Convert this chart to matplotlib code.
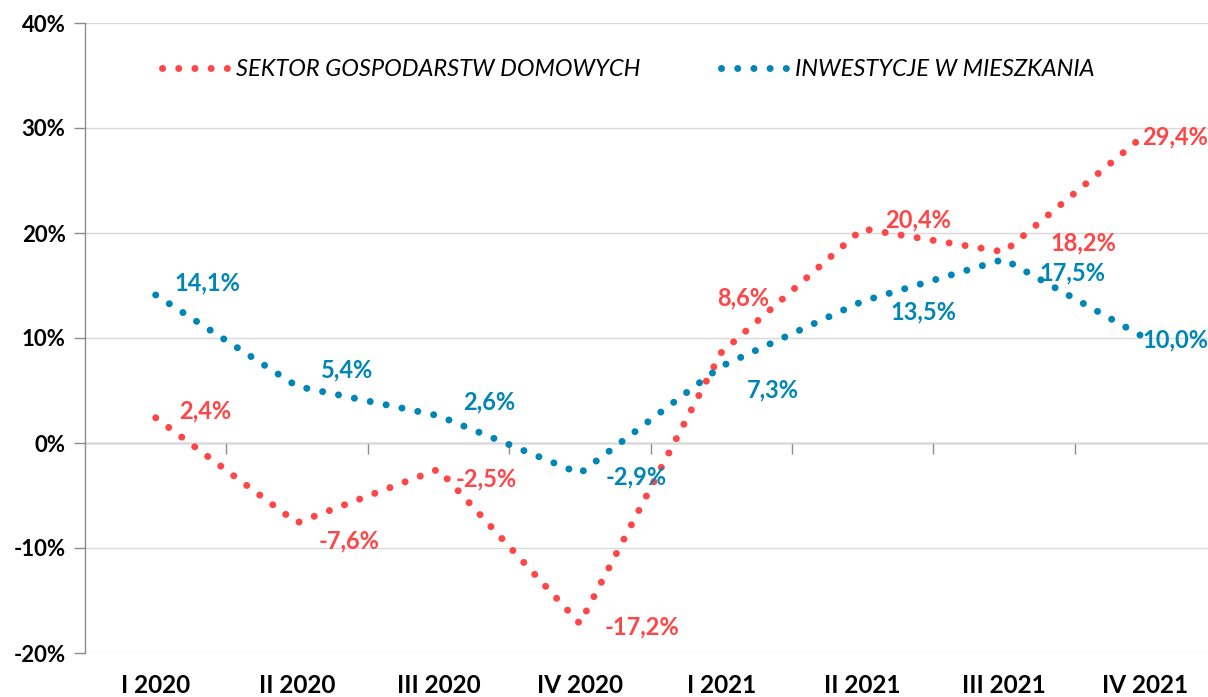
import numpy as np
import matplotlib.pyplot as plt
from matplotlib.lines import Line2D

quarters = ["I 2020", "II 2020", "III 2020", "IV 2020",
            "I 2021", "II 2021", "III 2021", "IV 2021"]
households = [2.4, -7.6, -2.5, -17.2, 8.6, 20.4, 18.2, 29.4]
housing = [14.1, 5.4, 2.6, -2.9, 7.3, 13.5, 17.5, 10.0]
series_names = ["SEKTOR GOSPODARSTW DOMOWYCH", "INWESTYCJE W MIESZKANIA"]
y_ticks = [-20, -10, 0, 10, 20, 30, 40]

RED = "#FF4545"
BLUE = "#0086B6"
GRID = "#D9D9D9"
AXIS = "#8C8C8C"
FONT = "Lato"

DPI = 100
DOT_PX = 7.0
GAP_PX = 16.2
lw = DOT_PX * 72 / DPI
dots = (0, (0.01, GAP_PX / DOT_PX - 0.01))

fig = plt.figure(figsize=(12.08, 6.97), dpi=DPI)
ax = fig.add_axes([85 / 1208, 1 - 653 / 697, 1131 / 1208, 630 / 697])

x = np.arange(len(quarters))

ax.set_xlim(-0.5, len(quarters) - 0.5)
ax.set_ylim(-20, 40)

for vals, color in [(households, RED), (housing, BLUE)]:
    ax.plot(x, vals, color=color, linewidth=lw, linestyle=dots,
            dash_capstyle="round", dash_joinstyle="round", zorder=3,
            clip_on=False)

# data labels (offsets in pixels)
red_off = [(50, 7), (52, -18), (48, -10), (62, -3),
           (22, 55), (56, 9), (79, 9), (30, -3)]
blue_off = [(52, 12), (50, 16), (51, 14), (56, -3),
            (52, -24), (61, -11), (69, -14), (30, -2)]
for vals, offs, color in [(households, red_off, RED), (housing, blue_off, BLUE)]:
    for xi, v, (dx, dy) in zip(x, vals, offs):
        ax.annotate(f"{v:.1f}%".replace(".", ","), (xi, v),
                    xytext=(dx, dy), textcoords="offset pixels",
                    ha="center", va="center", color=color,
                    fontsize=17, fontweight="bold", family=FONT,
                    zorder=4, annotation_clip=False)

# axes styling
for side in ["top", "right", "bottom"]:
    ax.spines[side].set_visible(False)
ax.spines["left"].set_color(AXIS)
ax.spines["left"].set_linewidth(1)

ax.set_yticks(y_ticks)
ax.set_yticklabels([f"{t}%" for t in y_ticks])
ax.yaxis.grid(True, color=GRID, linewidth=1)
ax.set_axisbelow(True)
ax.tick_params(axis="y", length=8, color=AXIS, width=1, pad=6,
               labelsize=16)

ax.set_xticks(x)
ax.set_xticklabels(quarters)
ax.tick_params(axis="x", length=0, pad=15, labelsize=17.5)

for lab in ax.get_xticklabels() + ax.get_yticklabels():
    lab.set_fontweight("bold")
    lab.set_family(FONT)

# zero line with category boundary ticks
zero_ax = ax.secondary_xaxis(20 / 60)
zero_ax.spines["bottom"].set_color(AXIS)
zero_ax.spines["bottom"].set_linewidth(1)
zero_ax.set_xticks(np.arange(0.5, len(quarters) - 0.5, 1.0))
zero_ax.set_xticklabels([])
zero_ax.tick_params(axis="x", length=8, color=AXIS, width=1, direction="out")

handles = [Line2D([], [], color=c, linewidth=lw, linestyle=dots,
                  dash_capstyle="round") for c in (RED, BLUE)]
ax.legend(handles, series_names, loc="center left",
          bbox_to_anchor=(77 / 1131, 583 / 630), ncol=2, frameon=False,
          prop={"family": FONT, "style": "italic", "size": 17},
          handlelength=2.8, handletextpad=0.34, columnspacing=3.4,
          borderpad=0, borderaxespad=0)

fig.savefig("out.png", dpi=DPI)
